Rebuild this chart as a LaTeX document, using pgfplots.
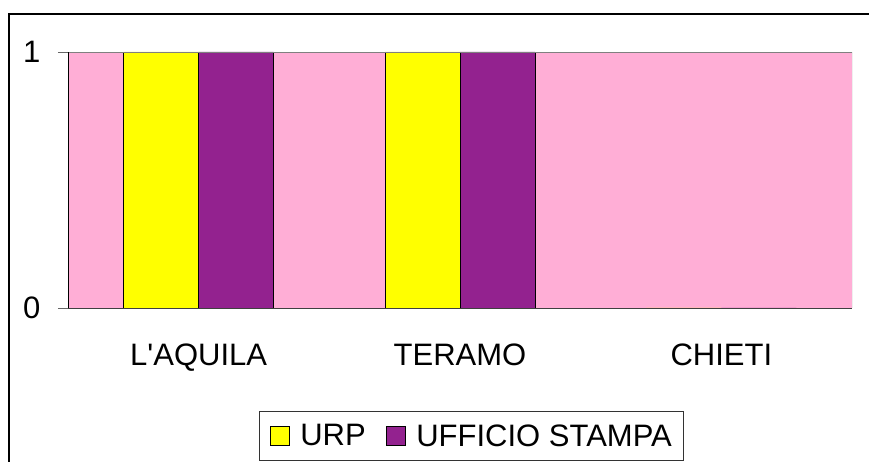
\documentclass[border=0pt]{standalone}
\usepackage{pgfplots}
\pgfplotsset{compat=1.18}
\usepackage{fontspec}
\setmainfont{Liberation Sans}
\definecolor{pinkbg}{RGB}{255,174,214}
\definecolor{urp}{RGB}{255,255,0}
\definecolor{stampa}{RGB}{147,34,143}
\begin{document}
\begin{tikzpicture}
\useasboundingbox (0pt,0pt) rectangle (869pt,462pt);
\clip (0pt,0pt) rectangle (869pt,462pt);
\draw[black, line width=1.2pt] (9pt,-10pt) rectangle (880pt,448pt);
\begin{axis}[
  at={(68pt,154pt)}, anchor=south west,
  scale only axis, width=784pt, height=256pt,
  xmin=-0.5, xmax=2.5, ymin=0, ymax=1,
  ybar=0pt, bar width=0.287,
  axis on top,
  axis background/.style={fill=pinkbg},
  axis x line*=bottom, axis y line*=left,
  axis line style={-, line width=0.9pt},
  x axis line style={draw=black!75},
  xtick={0,1,2},
  xticklabels={L\textquotesingle AQUILA,TERAMO,CHIETI},
  x tick style={draw=none},
  extra x ticks={-0.5,0.5,1.5,2.5},
  extra x tick labels={},
  extra x tick style={major tick length=10pt, tick style={draw=black, line width=0.9pt}},
  ytick={0,1},
  y tick style={draw=black!60, line width=0.9pt},
  tick align=outside,
  major tick length=10pt,
  /pgf/number format/assume math mode=true,
  ticklabel style={font=\fontsize{31}{37}\selectfont},
  yticklabel style={xshift=-14pt},
  xticklabel style={yshift=-22pt},
  legend style={at={(0.515,-0.5)}, anchor=center, draw=black!80, line width=0.8pt,
    font=\fontsize{31}{37}\selectfont, legend columns=2,
    inner xsep=10pt, inner ysep=11pt,
    /tikz/every odd column/.append style={column sep=9pt},
    /tikz/every even column/.append style={column sep=18pt}},
]
\addplot[fill=urp, draw=black, line width=0.6pt,
  legend image code/.code={\draw[fill=urp,draw=black,line width=0.6pt] (0pt,-9.5pt) rectangle (19pt,9.5pt);}]
  coordinates {(0,1) (1,1) (2,0)};
\addplot[fill=stampa, draw=black, line width=0.6pt,
  legend image code/.code={\draw[fill=stampa,draw=black,line width=0.6pt] (0pt,-9.5pt) rectangle (19pt,9.5pt);}]
  coordinates {(0,1) (1,1) (2,0)};
\legend{URP,UFFICIO STAMPA}
\draw[black!50, line width=0.9pt] (rel axis cs:0,1) -- (rel axis cs:1,1) -- (rel axis cs:1,0);
\end{axis}
\end{tikzpicture}
\end{document}
